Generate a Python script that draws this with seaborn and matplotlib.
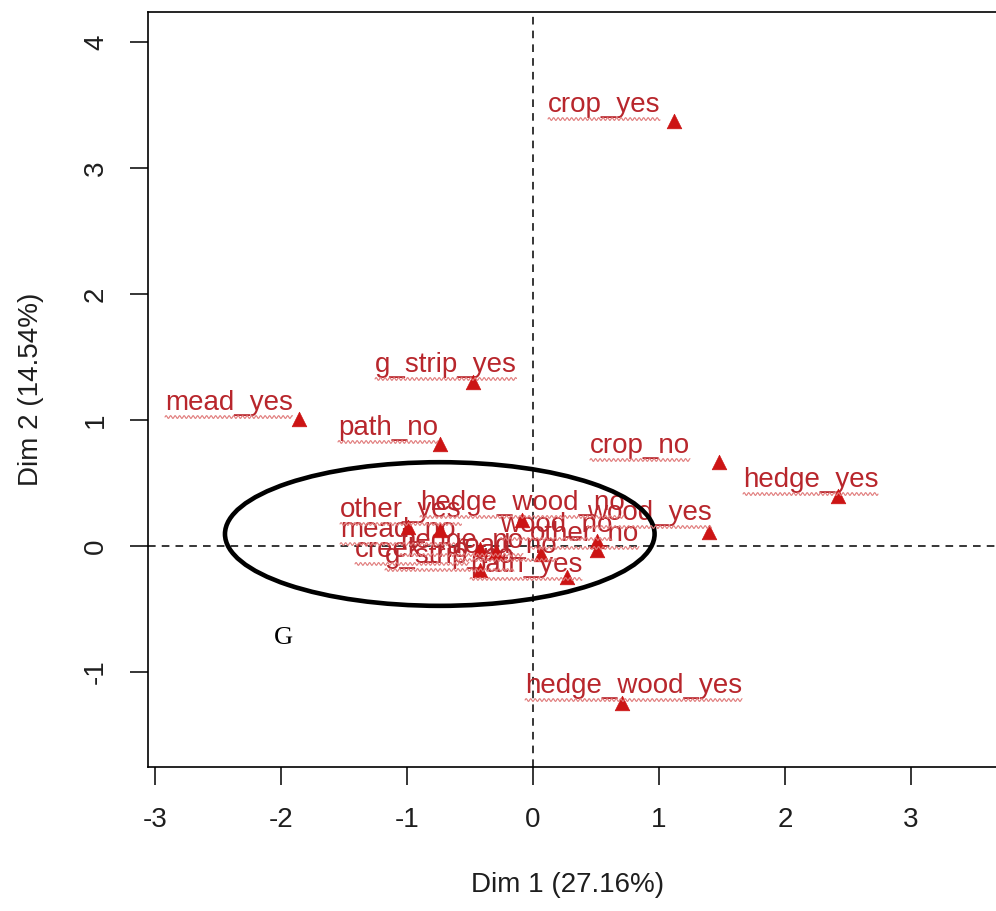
import numpy as np
import pandas as pd
import matplotlib
matplotlib.use("Agg")
import matplotlib.pyplot as plt
from matplotlib.patches import Ellipse
from matplotlib.lines import Line2D
from matplotlib.transforms import IdentityTransform
import seaborn as sns

# Category coordinates on the first two MCA dimensions
categories = [
    "crop_yes", "g_strip_yes", "mead_yes", "path_no", "crop_no", "hedge_yes",
    "wood_yes", "hedge_wood_yes", "other_yes", "hedge_wood_no", "mead_no",
    "creek_no", "g_strip_no", "hedge_no", "road_no", "path_yes", "other_no",
    "wood_no",
]
dim1 = [1.12, -0.48, -1.86, -0.74, 1.48, 2.42,
        1.40, 0.71, -0.99, -0.09, -0.74,
        -0.42, -0.42, -0.29, 0.06, 0.27, 0.51,
        0.51]
dim2 = [3.37, 1.30, 1.01, 0.81, 0.67, 0.40,
        0.11, -1.25, 0.15, 0.21, 0.13,
        -0.02, -0.19, -0.05, -0.06, -0.25, -0.03,
        0.04]

x_ticks = [-3, -2, -1, 0, 1, 2, 3]
y_ticks = [-1, 0, 1, 2, 3, 4]
x_title = "Dim 1 (27.16%)"
y_title = "Dim 2 (14.54%)"
group_mark = "G"

# Where each label's text starts (left edge, baseline), in data units
label_at = {
    "crop_yes": (0.119, 3.444), "g_strip_yes": (-1.254, 1.381),
    "mead_yes": (-2.921, 1.079), "path_no": (-1.548, 0.881),
    "crop_no": (0.452, 0.738), "hedge_yes": (1.667, 0.468),
    "wood_yes": (0.429, 0.206), "hedge_wood_yes": (-0.063, -1.167),
    "other_yes": (-1.532, 0.230), "hedge_wood_no": (-0.897, 0.286),
    "mead_no": (-1.532, 0.071), "creek_no": (-1.413, -0.087),
    "g_strip_no": (-1.175, -0.135), "hedge_no": (-1.056, -0.016),
    "road_no": (-0.619, -0.056), "path_yes": (-0.500, -0.206),
    "other_no": (-0.024, 0.040), "wood_no": (-0.262, 0.111),
}

df = pd.DataFrame({"category": categories, "dim1": dim1, "dim2": dim2})

sns.set_theme(style="white")
plt.rcParams["font.family"] = ["Liberation Sans", "DejaVu Sans"]

W, H, DPI = 996, 911, 100
fig = plt.figure(figsize=(W / DPI, H / DPI), dpi=DPI)
ax = fig.add_axes([148 / W, (H - 767) / H, (W - 148) / W, (767 - 12) / H])

point_red = "#CC1414"
text_red = "#B8262C"
ink = "#1E1E1E"

sns.scatterplot(data=df, x="dim1", y="dim2", marker="^", s=110,
                color=point_red, edgecolor=point_red, linewidth=0.5,
                ax=ax, zorder=4, legend=False)

ax.axhline(0, color="black", lw=1.1, ls=(0, (5, 4)), zorder=2)
ax.axvline(0, color="black", lw=1.1, ls=(0, (5, 4)), zorder=2)

texts = []
for cat in categories:
    tx, ty = label_at[cat]
    t = ax.text(tx, ty, cat, fontsize=20, color=text_red, ha="left",
                va="baseline", zorder=3)
    texts.append(t)

ax.add_patch(Ellipse((-0.74, 0.095), 3.41, 1.14, fill=False,
                     edgecolor="black", lw=3.3, zorder=6))
ax.text(-1.98, -0.73, group_mark, fontsize=19, family="Liberation Serif",
        color="black", ha="center", va="center", zorder=6)

ax.set_xlim(-3.056, 3.675)
ax.set_ylim(-1.754, 4.238)
ax.set_xticks(x_ticks)
ax.set_yticks(y_ticks)
ax.set_xticklabels([str(v) for v in x_ticks])
ax.set_yticklabels([str(v) for v in y_ticks], rotation=90, va="center")
ax.tick_params(axis="both", which="major", direction="out", length=13,
               width=1.1, color="black", labelsize=20, labelcolor=ink,
               bottom=True, left=True)
ax.tick_params(axis="x", pad=16)
ax.tick_params(axis="y", pad=15)

for side in ["left", "bottom", "top"]:
    ax.spines[side].set_visible(True)
    ax.spines[side].set_color("black")
    ax.spines[side].set_linewidth(1.2)
ax.spines["right"].set_visible(False)

ax.set_xlabel(x_title, fontsize=20, color=ink)
ax.set_ylabel(y_title, fontsize=20, color=ink)
ax.xaxis.set_label_coords((568 - 148) / (W - 148), -(872 - 767) / (767 - 12))
ax.yaxis.set_label_coords(-(148 - 44) / (W - 148), 0.5)

# Wavy proofreading-style underline below each label
fig.canvas.draw()
renderer = fig.canvas.get_renderer()
for t in texts:
    bb = t.get_window_extent(renderer)
    base_y = ax.transData.transform(t.get_position())[1]
    xs = np.arange(bb.x0, bb.x1, 0.5)
    ys = base_y - 7 + 1.4 * np.sin(2 * np.pi * (xs - bb.x0) / 4.5)
    fig.add_artist(Line2D(xs, ys, transform=IdentityTransform(),
                          color="#E07A7A", lw=0.8, zorder=3))

fig.savefig("out.png", dpi=DPI)
